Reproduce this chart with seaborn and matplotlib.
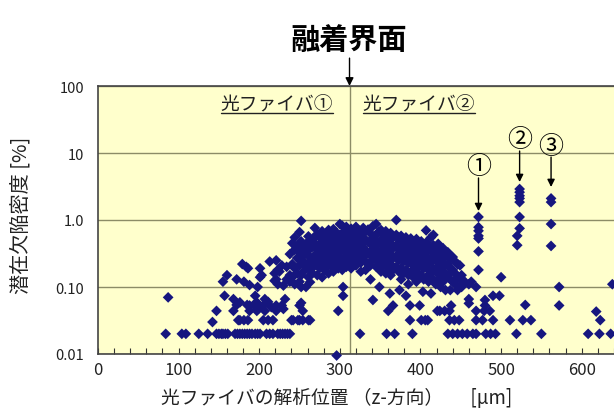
import pandas as pd
import matplotlib
matplotlib.use("Agg")
import matplotlib.pyplot as plt
from matplotlib.lines import Line2D
from matplotlib.ticker import MultipleLocator, NullLocator
import seaborn as sns

# Latent defect density [%] along the fiber axis, grouped by analysis position [um]
fiber1_pos = [84, 87, 104, 109, 125, 136, 142, 147, 150, 153, 155, 157, 158, 160, 161,
              168, 170, 172, 173, 174, 176, 179, 181, 182, 184, 185, 186, 188, 191, 193,
              195, 197, 198, 199, 201, 203, 205, 207, 209, 211, 213, 215, 217, 219, 221,
              223, 225, 226, 228, 229, 230, 232, 234, 235, 238, 240, 241, 242, 244, 247,
              248, 250, 252, 254, 255, 258, 261, 263, 266, 269, 272, 275, 278, 281, 283,
              286, 289, 292, 295, 296, 298, 300, 303, 304, 306, 308, 311]
fiber1_vals = [
    [0.02], [0.07], [0.02], [0.02], [0.02], [0.02], [0.03], [0.044, 0.02], [0.02], [0.02],
    [0.12, 0.02], [0.074], [0.02], [0.15], [0.02],
    [0.066, 0.044], [0.02], [0.13, 0.054], [0.02], [0.032], [0.059, 0.032, 0.02],
    [0.22, 0.02], [0.12, 0.032], [0.02], [0.20], [0.054, 0.02], [0.19, 0.032],
    [0.107, 0.053, 0.044, 0.02], [0.02], [0.054],
    [0.074, 0.02], [0.059, 0.044], [0.10, 0.02], [0.047], [0.19, 0.14, 0.02], [0.15],
    [0.053, 0.032], [0.066, 0.044], [0.02], [0.06, 0.032], [0.24, 0.02], [0.05],
    [0.032, 0.02], [0.16, 0.124], [0.25, 0.13, 0.053, 0.044],
    [0.18, 0.11, 0.02], [0.17], [0.02], [0.21, 0.053], [0.02], [0.105, 0.047],
    [0.066, 0.02], [0.20, 0.13], [0.02], [0.31, 0.15, 0.12, 0.02], [0.032],
    [0.45, 0.22, 0.14], [0.032], [0.55, 0.36, 0.19, 0.11], [0.41, 0.27, 0.16],
    [0.032], [0.66, 0.33, 0.21, 0.12, 0.053, 0.032], [0.97, 0.48, 0.29, 0.15, 0.10, 0.058],
    [0.044, 0.032], [0.38, 0.24, 0.17], [0.44, 0.31, 0.20, 0.10],
    [0.57, 0.35, 0.23, 0.14, 0.032], [0.49, 0.28, 0.18, 0.118, 0.032],
    [0.52, 0.40, 0.26, 0.16], [0.76, 0.45, 0.30, 0.21], [0.62, 0.36, 0.24, 0.15],
    [0.55, 0.41, 0.28, 0.19], [0.68, 0.47, 0.33, 0.22, 0.14], [0.58, 0.39, 0.26, 0.18],
    [0.55, 0.42, 0.30, 0.20],
    [0.71, 0.50, 0.35, 0.24, 0.16], [0.63, 0.44, 0.29, 0.21], [0.73, 0.53, 0.38, 0.25, 0.17],
    [0.66, 0.47, 0.32, 0.22], [0.0095], [0.58, 0.41, 0.28, 0.19, 0.044],
    [0.87, 0.60, 0.45, 0.33, 0.23], [0.82, 0.52, 0.37, 0.26, 0.18], [0.10, 0.074],
    [0.69, 0.49, 0.34, 0.24], [0.79, 0.56, 0.40, 0.28, 0.20], [0.62, 0.46, 0.31, 0.22],
]

fiber2_pos = [314, 317, 320, 323, 325, 326, 329, 332, 335, 338, 341, 345, 348, 349, 351,
              354, 357, 358, 360, 362, 363, 366, 368, 370, 373, 374, 376, 379, 382, 385,
              387, 388, 390, 391, 395, 398, 399, 401, 403, 404, 406, 407, 409, 410, 413,
              416, 419, 421, 422, 424, 425, 428, 430, 431, 434, 436, 437, 438, 440, 442,
              443, 446, 448, 449, 451, 452, 455, 458, 460, 463, 465, 469, 477, 479, 480,
              481, 486, 487, 490, 493, 498, 500, 511, 519, 527, 530, 537, 550, 572, 608,
              618, 622, 623, 636, 638]
fiber2_vals = [
    [0.74, 0.53, 0.38, 0.27, 0.19], [0.67, 0.48, 0.34, 0.25], [0.79, 0.58, 0.41, 0.29, 0.21],
    [0.70, 0.51, 0.36, 0.26], [0.02], [0.64, 0.45, 0.33, 0.23, 0.17], [0.76, 0.55, 0.39, 0.28],
    [0.68, 0.50, 0.35, 0.24, 0.18], [0.72, 0.47, 0.32, 0.22], [0.63, 0.44, 0.30, 0.21, 0.13],
    [0.81, 0.53, 0.37, 0.26, 0.064], [0.87, 0.60, 0.42, 0.29, 0.20], [0.66, 0.46, 0.33, 0.23],
    [0.10], [0.71, 0.50, 0.35, 0.25, 0.17],
    [0.61, 0.43, 0.30, 0.21], [0.68, 0.48, 0.34, 0.24, 0.16], [0.02],
    [0.57, 0.40, 0.28, 0.19, 0.044], [0.08], [0.64, 0.45, 0.31, 0.22, 0.15],
    [0.55, 0.38, 0.27, 0.18, 0.053], [0.02], [1.0, 0.60, 0.42, 0.29, 0.20],
    [0.52, 0.36, 0.25, 0.17], [0.09], [0.58, 0.40, 0.28, 0.19, 0.13], [0.49, 0.34, 0.24, 0.16],
    [0.55, 0.39, 0.27, 0.18, 0.074], [0.47, 0.33, 0.23, 0.15, 0.11],
    [0.053, 0.032], [0.53, 0.37, 0.26, 0.17], [0.02], [0.45, 0.31, 0.21, 0.14],
    [0.52, 0.36, 0.25, 0.17, 0.12], [0.43, 0.30, 0.20, 0.14], [0.053],
    [0.48, 0.33, 0.23, 0.15, 0.032], [0.085], [0.41, 0.28, 0.19, 0.13], [0.032],
    [0.70, 0.46, 0.32, 0.21, 0.14], [0.032], [0.39, 0.26, 0.18, 0.12],
    [0.55, 0.35, 0.24, 0.16, 0.08],
    [0.60, 0.42, 0.29, 0.19, 0.13], [0.37, 0.25, 0.17, 0.11], [0.044], [0.44, 0.30, 0.20, 0.13],
    [0.044], [0.34, 0.23, 0.15, 0.10], [0.38, 0.26, 0.17, 0.12], [0.044],
    [0.31, 0.21, 0.14, 0.09], [0.33, 0.22, 0.15, 0.02], [0.044, 0.032],
    [0.28, 0.19, 0.13, 0.09], [0.053], [0.28, 0.18, 0.12, 0.02], [0.032],
    [0.24, 0.16, 0.11], [0.22, 0.14, 0.09, 0.02], [0.032], [0.21, 0.13], [0.15, 0.10],
    [0.02], [0.12], [0.02], [0.11, 0.066, 0.057], [0.12], [0.02], [0.10, 0.044, 0.032, 0.02],
    [0.032], [0.044], [0.064, 0.053],
    [0.02], [0.044], [0.02], [0.074, 0.032], [0.02], [0.074], [0.14], [0.032], [0.02],
    [0.032], [0.054], [0.032], [0.02], [0.10, 0.053], [0.02],
    [0.043], [0.02], [0.032], [0.02], [0.11],
]

# Isolated high-density defects
defect_pos = [472, 520, 523, 562]
defect_vals = [
    [1.11, 0.78, 0.69, 0.58, 0.53, 0.34, 0.18],
    [0.58, 0.42],
    [2.9, 2.6, 2.3, 2.1, 1.85, 1.11, 0.75],
    [2.1, 1.85, 0.87, 0.41],
]
defect_labels = ["①", "②", "③"]
defect_marks = [472, 523, 562]

splice_pos = 312
fiber_labels = ["光ファイバ①", "光ファイバ②"]
fiber_label_pos = [222, 398]

y_ticks = [0.01, 0.1, 1, 10, 100]
y_tick_labels = ["0.01", "0.10", "1.0", "10", "100"]
x_ticks = [0, 100, 200, 300, 400, 500, 600]

rows = []
for group, positions, values in [("fiber1", fiber1_pos, fiber1_vals),
                                 ("fiber2", fiber2_pos, fiber2_vals),
                                 ("defect", defect_pos, defect_vals)]:
    for p, vs in zip(positions, values):
        for v in vs:
            rows.append({"pos": p, "density": v, "group": group})
df = pd.DataFrame(rows)

sns.set_theme(style="white")
plt.rcParams["font.family"] = ["Noto Sans CJK JP", "DejaVu Sans"]
plt.rcParams["axes.unicode_minus"] = False

fig = plt.figure(figsize=(6.14, 4.14), dpi=100)
ax = fig.add_axes([98 / 614, 1 - 355 / 414, 524 / 614, 268 / 414])
ax.set_facecolor("#FFFFCC")

sns.scatterplot(data=df, x="pos", y="density", ax=ax, marker="D", s=30,
                color="#16167f", edgecolor="none", linewidth=0, legend=False,
                zorder=3, clip_on=False)

ax.set_yscale("log")
ax.set_ylim(0.01, 100)
ax.set_xlim(0, 650)

grid_color = "#8c8c66"
ax.set_yticks(y_ticks, y_tick_labels)
ax.yaxis.set_minor_locator(NullLocator())
ax.yaxis.grid(True, color=grid_color, lw=1.0)
ax.xaxis.grid(False)
ax.axvline(splice_pos, color=grid_color, lw=1.0, zorder=1)

ax.set_xticks(x_ticks)
ax.xaxis.set_minor_locator(MultipleLocator(20))
ax.tick_params(axis="x", which="both", direction="in", length=4, width=0.8,
               color="#333333", bottom=True, top=False, labelsize=12, pad=5,
               labelcolor="#222222")
ax.tick_params(axis="y", which="both", length=0, pad=10, labelsize=10.5,
               labelcolor="#222222")

for side in ["top", "left", "bottom"]:
    ax.spines[side].set_color("#444444")
    ax.spines[side].set_linewidth(1.2)
ax.spines["right"].set_visible(False)

ax.set_xlabel("光ファイバの解析位置 （z-方向）　  [μm]", fontsize=13.5, color="#222222")
ax.xaxis.label.set_va("center")
ax.xaxis.set_label_coords(0.456, -0.162)
ax.set_ylabel("潜在欠陥密度 [%]", fontsize=14.5, color="#222222")
ax.yaxis.label.set_va("center")
ax.yaxis.set_label_coords(-(98 - 21) / 524, 0.52)

fig.text(0.568, 0.903, "融着界面", ha="center", va="center", fontsize=21,
         fontweight="bold", color="black")
ax.annotate("", xy=(splice_pos, 1.0), xycoords=("data", "axes fraction"),
            xytext=(splice_pos, 1.104), textcoords=("data", "axes fraction"),
            arrowprops=dict(arrowstyle="-|>", color="black", lw=1.0,
                            mutation_scale=12, shrinkA=0, shrinkB=0),
            annotation_clip=False)

fiber_texts = [ax.text(x, 54, t, ha="center", va="center", fontsize=13.5, color="#222222")
               for x, t in zip(fiber_label_pos, fiber_labels)]

# circled defect numbers with arrows pointing down at each defect column
label_y = [6.4, 16.2, 12.7]
arrow_top = [4.24, 10.7, 8.7]
arrow_tip = [1.36, 3.69, 3.11]
for lab, x, ly, at, tip in zip(defect_labels, defect_marks, label_y, arrow_top, arrow_tip):
    ax.text(x, ly, lab, ha="center", va="center", fontsize=18, color="black")
    ax.annotate("", xy=(x, tip), xytext=(x, at),
                arrowprops=dict(arrowstyle="-|>", color="black", lw=1.0,
                                mutation_scale=11, shrinkA=0, shrinkB=0))

# underline the fiber labels
fig.canvas.draw()
renderer = fig.canvas.get_renderer()
W, H = fig.bbox.width, fig.bbox.height
for t in fiber_texts:
    bb = t.get_window_extent(renderer)
    yl = (bb.y0 + 1) / H
    fig.add_artist(Line2D([bb.x0 / W, bb.x1 / W], [yl, yl], color="#222222", lw=1.0))

fig.savefig("out.png", dpi=100)
